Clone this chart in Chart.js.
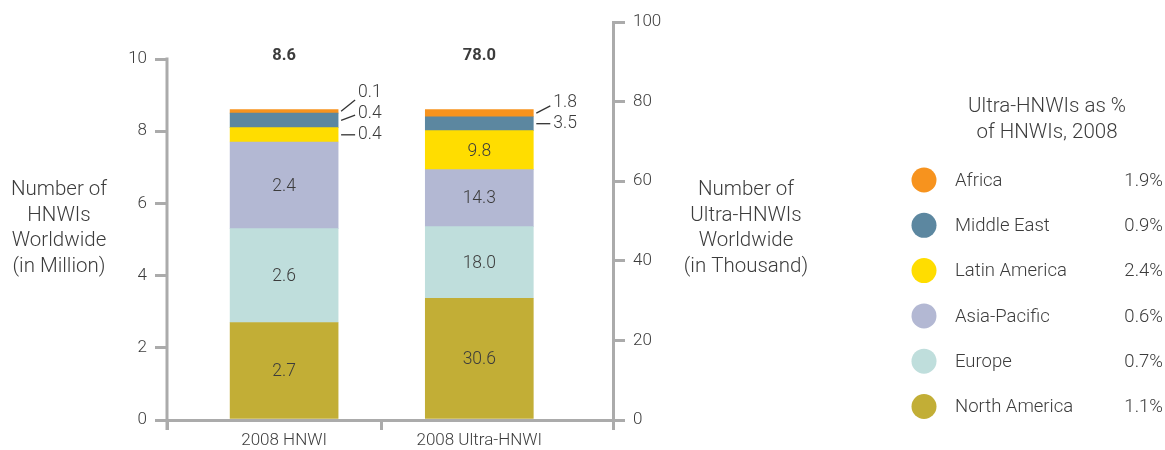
<!DOCTYPE html>
<html>
<head>
<meta charset="utf-8">
<title>HNWI and Ultra-HNWI by region, 2008</title>
<script src="https://cdn.jsdelivr.net/npm/chart.js@4/dist/chart.umd.min.js"></script>
<style>
    html, body { margin: 0; padding: 0; background: #fff; }
    #wrap { width: 1165px; height: 450px; }
</style>
</head>
<body>
<div id="wrap"><canvas id="hnwiChart" width="1165" height="450"></canvas></div>
<script>
// Data
const categories = ['2008 HNWI', '2008 Ultra-HNWI'];
const regions = ['Africa', 'Middle East', 'Latin America', 'Asia-Pacific', 'Europe', 'North America'];
const hnwiMillions = [0.1, 0.4, 0.4, 2.4, 2.6, 2.7];
const ultraThousands = [1.8, 3.5, 9.8, 14.3, 18.0, 30.6];
const barTotals = ['8.6', '78.0'];
const ultraSharePct = ['1.9%', '0.9%', '2.4%', '0.6%', '0.7%', '1.1%'];
const regionColors = ['#f7931e', '#5c87a0', '#ffdd00', '#b3b8d3', '#bfdedc', '#c2ae36'];
const leftTicks = [0, 2, 4, 6, 8, 10];
const rightTicks = [0, 20, 40, 60, 80, 100];
const leftTitle = ['Number of', 'HNWIs', 'Worldwide', '(in Million)'];
const rightTitle = ['Number of', 'Ultra-HNWIs', 'Worldwide', '(in Thousand)'];
const legendTitle = ['Ultra-HNWIs as %', 'of HNWIs, 2008'];

const AXIS_GREY = '#ababab';
const TEXT = '#3c3c3c';
const FONT = 'Roboto, "Noto Sans", sans-serif';

// North America sits at the bottom, so build datasets bottom-up
const datasets = [];
for (let i = regions.length - 1; i >= 0; i--) {
    datasets.push({
        label: regions[i],
        data: [{ x: 0, y: hnwiMillions[i] }],
        backgroundColor: regionColors[i],
        yAxisID: 'y',
        barThickness: 108
    });
    datasets.push({
        label: regions[i],
        data: [{ x: 1, y: ultraThousands[i] }],
        backgroundColor: regionColors[i],
        yAxisID: 'y1',
        barThickness: 108
    });
}

// left axis line only runs 0..10, drawn here
const leftAxisLine = {
    id: 'leftAxisLine',
    afterDraw(chart) {
        const ctx = chart.ctx;
        const y = chart.scales.y;
        ctx.save();
        ctx.strokeStyle = AXIS_GREY;
        ctx.lineWidth = 3;
        ctx.beginPath();
        ctx.moveTo(y.right, y.getPixelForValue(leftTicks[leftTicks.length - 1]) - 1.5);
        ctx.lineTo(y.right, chart.chartArea.bottom + 10);
        ctx.stroke();
        ctx.restore();
    }
};

// values inside the bars, leader labels for thin segments, totals on top
const barLabels = {
    id: 'barLabels',
    afterDatasetsDraw(chart) {
        const ctx = chart.ctx;
        ctx.save();
        ctx.fillStyle = TEXT;
        ctx.textBaseline = 'middle';

        [0, 1].forEach(col => {
            const small = [];
            let bar = null;
            ctx.font = '300 17.5px ' + FONT;
            chart.data.datasets.forEach((ds, di) => {
                if (ds.data[0].x !== col) return;
                const el = chart.getDatasetMeta(di).data[0];
                bar = el;
                const top = Math.min(el.y, el.base);
                const h = Math.abs(el.base - el.y);
                const mid = top + h / 2;
                const txt = ds.data[0].y.toFixed(1);
                if (h >= 20) {
                    ctx.textAlign = 'center';
                    ctx.fillText(txt, el.x, mid + 1);
                } else {
                    small.push({ mid, txt, right: el.x + el.width / 2 });
                }
            });
            // small ones come bottom-up; push labels upward so they do not collide
            let prev = Infinity;
            small.forEach(s => {
                const ly = Math.min(s.mid, prev - 21);
                prev = ly;
                const endY = (s.mid + ly) / 2;
                ctx.strokeStyle = '#333';
                ctx.lineWidth = 1.3;
                ctx.beginPath();
                ctx.moveTo(s.right + 3, s.mid);
                ctx.lineTo(s.right + 17, Math.abs(s.mid - ly) < 1 ? s.mid : endY - 2);
                ctx.stroke();
                ctx.textAlign = 'left';
                ctx.fillText(s.txt, s.right + 20, ly);
            });
            // total
            ctx.font = 'bold 16.5px ' + FONT;
            ctx.textAlign = 'center';
            ctx.fillText(barTotals[col], bar.x, chart.scales.y.getPixelForValue(10) - 3);
        });
        ctx.restore();
    }
};

// axis titles and the legend with shares
const sideTexts = {
    id: 'sideTexts',
    afterDraw(chart) {
        const ctx = chart.ctx;
        ctx.save();
        ctx.fillStyle = TEXT;
        ctx.textBaseline = 'middle';
        ctx.font = '300 20.5px ' + FONT;
        ctx.textAlign = 'center';
        leftTitle.forEach((t, i) => ctx.fillText(t, 59, 190 + i * 25.5));
        rightTitle.forEach((t, i) => ctx.fillText(t, 746, 190 + i * 25.5));
        legendTitle.forEach((t, i) => ctx.fillText(t, 1047, 107 + i * 26));

        ctx.font = '300 18.5px ' + FONT;
        regions.forEach((r, i) => {
            const cy = 180 + i * 45.3;
            ctx.fillStyle = regionColors[i];
            ctx.beginPath();
            ctx.arc(924, cy, 12.5, 0, Math.PI * 2);
            ctx.fill();
            ctx.fillStyle = TEXT;
            ctx.textAlign = 'left';
            ctx.fillText(r, 955, cy + 1);
            ctx.textAlign = 'right';
            ctx.fillText(ultraSharePct[i], 1163, cy + 1);
        });
        ctx.restore();
    }
};

const xTickValues = [-0.6, 0, 0.5, 1, 1.685];
const tickFont = { family: FONT, size: 17, weight: 300 };

new Chart(document.getElementById('hnwiChart'), {
    type: 'bar',
    data: { datasets },
    options: {
        responsive: false,
        devicePixelRatio: 1,
        animation: false,
        layout: { padding: { left: 0, right: 492, top: 22, bottom: 0 } },
        plugins: {
            legend: { display: false },
            tooltip: { enabled: false }
        },
        scales: {
            x: {
                type: 'linear',
                offset: false,
                stacked: true,
                min: -0.6,
                max: 1.685,
                afterBuildTicks: scale => { scale.ticks = xTickValues.map(v => ({ value: v })); },
                afterFit: scale => { scale.height = 30; },
                border: { display: true, color: AXIS_GREY, width: 3 },
                grid: {
                    offset: false,
                    drawOnChartArea: false,
                    drawTicks: true,
                    tickLength: 10,
                    lineWidth: 3,
                    color: c => (c.tick && (c.tick.value === 0 || c.tick.value === 1)) ? 'rgba(0,0,0,0)' : AXIS_GREY
                },
                ticks: {
                    autoSkip: false,
                    maxRotation: 0,
                    padding: 1,
                    color: TEXT,
                    font: tickFont,
                    callback: v => (v === 0 || v === 1) ? categories[v] : ''
                }
            },
            y: {
                position: 'left',
                stacked: true,
                min: 0,
                max: 10 * (420 - 22) / (420 - 59),
                afterBuildTicks: scale => { scale.ticks = leftTicks.map(v => ({ value: v })); },
                afterFit: scale => { scale.width = 167; },
                border: { display: false },
                grid: { drawOnChartArea: false, drawTicks: true, tickLength: 12, lineWidth: 3, color: AXIS_GREY },
                ticks: { padding: 8, color: TEXT, font: tickFont }
            },
            y1: {
                position: 'right',
                stacked: true,
                min: 0,
                max: 100,
                afterBuildTicks: scale => { scale.ticks = rightTicks.map(v => ({ value: v })); },
                afterFit: scale => { scale.width = 60; },
                border: { display: true, color: AXIS_GREY, width: 3 },
                grid: { drawOnChartArea: false, drawTicks: true, tickLength: 12, lineWidth: 3, color: AXIS_GREY },
                ticks: { padding: 8, color: TEXT, font: tickFont }
            }
        }
    },
    plugins: [leftAxisLine, barLabels, sideTexts]
});
</script>
</body>
</html>
